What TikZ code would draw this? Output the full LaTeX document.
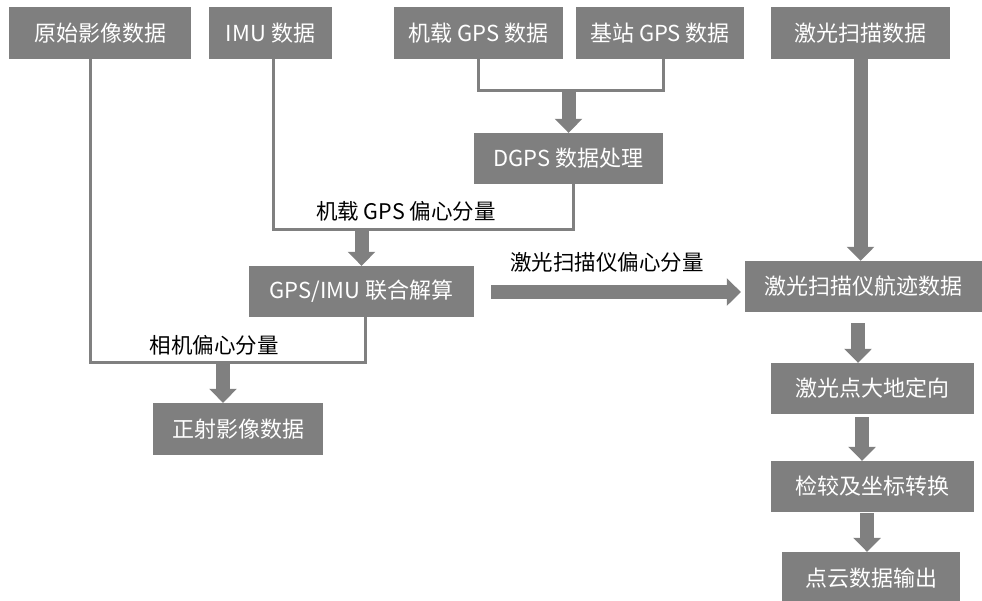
\documentclass[tikz,border=0pt]{standalone}
\usepackage{fontspec}
\setmainfont{Noto Sans CJK SC}
\usetikzlibrary{arrows.meta,calc}
\definecolor{boxgray}{HTML}{7F7F7F}
\definecolor{linegray}{HTML}{808080}
\begin{document}
\begin{tikzpicture}[x=1pt,y=-1pt,
  box/.style={fill=boxgray,text=white,inner sep=0pt,minimum height=52pt,font=\fontsize{22}{26}\selectfont},
  thinline/.style={draw=linegray,line width=3pt},
  fat/.style={draw=linegray,line width=14pt,-{Triangle[width=27pt,length=14pt]}},
  lab/.style={font=\fontsize{21.5}{24}\selectfont,text=black,inner sep=0pt}]
\useasboundingbox (0,0) rectangle (982,600);
\clip (0,0) rectangle (982,600);
% boxes
\node[box,minimum width=182pt] (raw) at (100,33) {原始影像数据};
\node[box,minimum width=123pt] (imu) at (270.5,33) {IMU 数据};
\node[box,minimum width=169pt] (agps) at (478.5,33) {机载 GPS 数据};
\node[box,minimum width=168pt] (bgps) at (660,33) {基站 GPS 数据};
\node[box,minimum width=179pt] (laser) at (860.5,33) {激光扫描数据};
\node[box,minimum width=189pt,minimum height=51pt] (dgps) at (568.5,158.5) {DGPS 数据处理};
\node[box,minimum width=225pt,minimum height=51pt] (gpsimu) at (361.5,291.5) {GPS/IMU 联合解算};
\node[box,minimum width=170pt] (ortho) at (238,429) {正射影像数据};
\node[box,minimum width=237pt,minimum height=51pt] (traj) at (863.5,286.5) {激光扫描仪航迹数据};
\node[box,minimum width=203pt,minimum height=51pt] (geo) at (872.5,388.5) {激光点大地定向};
\node[box,minimum width=203pt,minimum height=51pt] (conv) at (872.5,486.5) {检较及坐标转换};
\node[box,minimum width=178pt] (cloud) at (871,578) {点云数据输出};
% thin connectors
\draw[thinline] ([xshift=-10pt]raw.south) |- (365,362) -- (gpsimu.south -| 365,0);
\draw[thinline] ([xshift=2.5pt]imu.south) |- (573,229) -- (dgps.south -| 573,0);
\draw[thinline] (agps.south) |- (663,90) -- (bgps.south -| 663,0);
% fat arrows
\draw[fat] (dgps.north |- 0,90) -- (dgps.north);
\draw[fat] (gpsimu.north |- 0,229) -- (gpsimu.north);
\draw[fat] (223,362) -- (ortho.north -| 223,0);
\draw[fat] (laser.south) -- (laser.south |- traj.north);
\coordinate (hs) at (491,292);
\draw[fat] (hs) -- ([xshift=-4pt]traj.west |- hs);
\draw[fat] (858,323) -- (geo.north -| 858,0);
\draw[fat] (862,417) -- (conv.north -| 862,0);
\draw[fat] (867,513) -- (cloud.north -| 867,0);
% labels
\node[lab] (l1) at (406,211) {机载 GPS 偏心分量};
\node[lab] (l2) at (607,262) {激光扫描仪偏心分量};
\node[lab] (l3) at (214,345) {相机偏心分量};
\end{tikzpicture}
\end{document}
